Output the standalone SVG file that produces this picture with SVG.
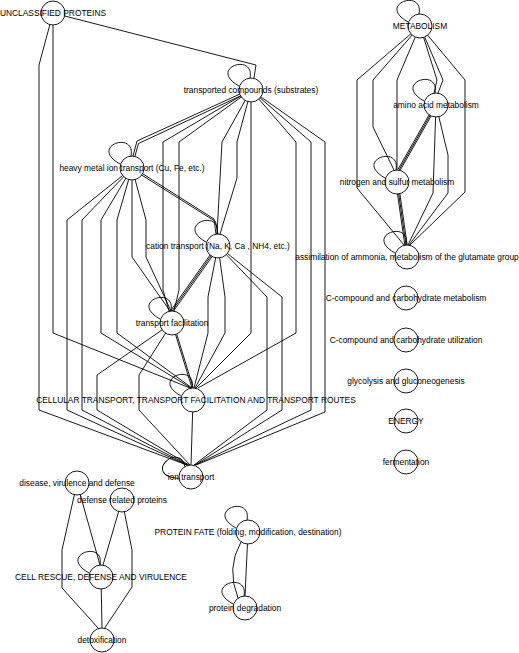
<svg xmlns="http://www.w3.org/2000/svg" xmlns:xlink="http://www.w3.org/1999/xlink" width="519" height="653" viewBox="0 0 519 653">
<style>
.e{fill:none;stroke:#000;stroke-width:0.9}
.n circle{fill:#fff;stroke:#000;stroke-width:0.9}
.n text{font-family:"Liberation Sans",Arial,sans-serif;font-size:8.4px;fill:#000;text-anchor:middle}
</style>
<defs>
<path id="loop" class="e" d="M-1,-12 C4,-38 -44,-22 -12,-4"/>
</defs>
<rect width="519" height="653" fill="#fff"/>
<g id="connectors">
<polyline class="e" points="53,13 256,65 254,78"/>
<polyline class="e" points="53,13 53,333 190,388"/>
<polyline class="e" points="53,13 39,65 39,410 187,465"/>
<polyline class="e" points="251,89 137,141 133,156"/>
<polyline class="e" points="251,91 138.5,143.5 135,156"/>
<polyline class="e" points="251,90 163,142 163,290 169,311"/>
<polyline class="e" points="251,90 179,142 179,290 174,311"/>
<polyline class="e" points="251,90 222,142 217,234"/>
<polyline class="e" points="251,90 237,142 237,178 220,234"/>
<polyline class="e" points="251,90 251,142 251,333 196,388"/>
<polyline class="e" points="251,90 296,142 296,333 198,388"/>
<polyline class="e" points="251,90 311,142 311,410 195,465"/>
<polyline class="e" points="251,90 325,142 325,412 196,465"/>
<polyline class="e" points="132,167 214,219 216,234"/>
<polyline class="e" points="132,169 215.5,221.5 218,234"/>
<polyline class="e" points="132,168 132,257 170,311"/>
<polyline class="e" points="132,168 146,220 146,257 171,311"/>
<polyline class="e" points="132,168 101,220 101,333 191,388"/>
<polyline class="e" points="132,168 117,220 117,333 192,388"/>
<polyline class="e" points="132,168 67,220 67,410 187,465"/>
<polyline class="e" points="132,168 82,220 82,410 188,465"/>
<polyline class="e" points="218,246 172,311"/>
<polyline class="e" points="219.1,246.7 173.1,311.7"/>
<polyline class="e" points="216.9,245.3 170.9,310.3"/>
<polyline class="e" points="218,246 208,297 208,333 194,388"/>
<polyline class="e" points="218,246 225,297 225,333 195,388"/>
<polyline class="e" points="218,246 267,297 267,410 194,465"/>
<polyline class="e" points="218,246 282,297 282,410 195,465"/>
<polyline class="e" points="172,323 192,388"/>
<polyline class="e" points="173.2,322.6 193.2,387.6"/>
<polyline class="e" points="172,323 97,375 97,410 189,465"/>
<polyline class="e" points="172,323 139,375 139,410 190,465"/>
<polyline class="e" points="193,400 191,465"/>
<polyline class="e" points="420,26 437,80 434,93"/>
<polyline class="e" points="420,26 443,80 438,93"/>
<polyline class="e" points="420,26 373,80 373,127 394,170"/>
<polyline class="e" points="420,26 397,80 397,170"/>
<polyline class="e" points="420,26 357,80 357,188 404,245"/>
<polyline class="e" points="420,26 465,80 465,192 410,245"/>
<polyline class="e" points="436,105 399,170"/>
<polyline class="e" points="437,105.6 400,170.6"/>
<polyline class="e" points="435,104.4 398,169.4"/>
<polyline class="e" points="436,105 433,193 408,245"/>
<polyline class="e" points="436,105 448,155 448,193 409,245"/>
<polyline class="e" points="397,182 406,245"/>
<polyline class="e" points="398.2,182 407.2,245"/>
<polyline class="e" points="395.8,182 404.8,245"/>
<polyline class="e" points="77,483 62,550 62,588 99,629"/>
<polyline class="e" points="77,483 100,565"/>
<polyline class="e" points="122,500 103,565"/>
<polyline class="e" points="122,500 132,550 132,587 104,629"/>
<polyline class="e" points="101,577 102,628"/>
<path class="e" d="M241,542 Q226,568 238,598"/>
<polyline class="e" points="248,532 245,596"/>
<use href="#loop" transform="translate(251,90)"/>
<use href="#loop" transform="translate(132,168)"/>
<use href="#loop" transform="translate(218,246)"/>
<use href="#loop" transform="translate(172,323)"/>
<use href="#loop" transform="translate(193,400)"/>
<use href="#loop" transform="translate(191,477) rotate(-25)"/>
<use href="#loop" transform="translate(420,26)"/>
<use href="#loop" transform="translate(436,105)"/>
<use href="#loop" transform="translate(397,182)"/>
<use href="#loop" transform="translate(407,257)"/>
<use href="#loop" transform="translate(101,577)"/>
<use href="#loop" transform="translate(248,532)"/>
<use href="#loop" transform="translate(245,608)"/>
</g>
<g id="n-unclassified" class="n"><circle cx="53" cy="13" r="12"/><text x="53" y="16">UNCLASSIFIED PROTEINS</text></g>
<g id="n-transported" class="n"><circle cx="251" cy="90" r="12"/><text x="251" y="93">transported compounds (substrates)</text></g>
<g id="n-heavymetal" class="n"><circle cx="132" cy="168" r="12"/><text x="132" y="171">heavy metal ion transport (Cu, Fe, etc.)</text></g>
<g id="n-cation" class="n"><circle cx="218" cy="246" r="12"/><text x="218" y="249">cation transport (Na, K, Ca , NH4, etc.)</text></g>
<g id="n-facilitation" class="n"><circle cx="172" cy="323" r="12"/><text x="172" y="326">transport facilitation</text></g>
<g id="n-cellular" class="n"><circle cx="193" cy="400" r="12"/><text x="196" y="403">CELLULAR TRANSPORT, TRANSPORT FACILITATION AND TRANSPORT ROUTES</text></g>
<g id="n-ion" class="n"><circle cx="191" cy="477" r="12"/><text x="191" y="480">ion transport</text></g>
<g id="n-metabolism" class="n"><circle cx="420" cy="26" r="12"/><text x="420" y="29">METABOLISM</text></g>
<g id="n-aminoacid" class="n"><circle cx="436" cy="105" r="12"/><text x="436" y="108">amino acid metabolism</text></g>
<g id="n-nitrogen" class="n"><circle cx="397" cy="182" r="12"/><text x="397" y="185">nitrogen and sulfur metabolism</text></g>
<g id="n-assimilation" class="n"><circle cx="407" cy="257" r="12"/><text x="407" y="260">assimilation of ammonia, metabolism of the glutamate group</text></g>
<g id="n-ccmetab" class="n"><circle cx="406" cy="298" r="12"/><text x="406" y="301">C-compound and carbohydrate metabolism</text></g>
<g id="n-ccutil" class="n"><circle cx="406" cy="340" r="12"/><text x="406" y="343">C-compound and carbohydrate utilization</text></g>
<g id="n-glycolysis" class="n"><circle cx="406" cy="381" r="12"/><text x="406" y="384">glycolysis and gluconeogenesis</text></g>
<g id="n-energy" class="n"><circle cx="406" cy="421" r="12"/><text x="406" y="424">ENERGY</text></g>
<g id="n-fermentation" class="n"><circle cx="406" cy="462" r="12"/><text x="406" y="465">fermentation</text></g>
<g id="n-disease" class="n"><circle cx="77" cy="483" r="12"/><text x="77" y="486">disease, virulence and defense</text></g>
<g id="n-defense" class="n"><circle cx="122" cy="500" r="12"/><text x="122" y="503">defense related proteins</text></g>
<g id="n-cellrescue" class="n"><circle cx="101" cy="577" r="12"/><text x="101" y="580">CELL RESCUE, DEFENSE AND VIRULENCE</text></g>
<g id="n-detox" class="n"><circle cx="102" cy="640" r="12"/><text x="102" y="643">detoxification</text></g>
<g id="n-proteinfate" class="n"><circle cx="248" cy="532" r="12"/><text x="248" y="535">PROTEIN FATE (folding, modification, destination)</text></g>
<g id="n-degradation" class="n"><circle cx="245" cy="608" r="12"/><text x="245" y="611">protein degradation</text></g>
</svg>
